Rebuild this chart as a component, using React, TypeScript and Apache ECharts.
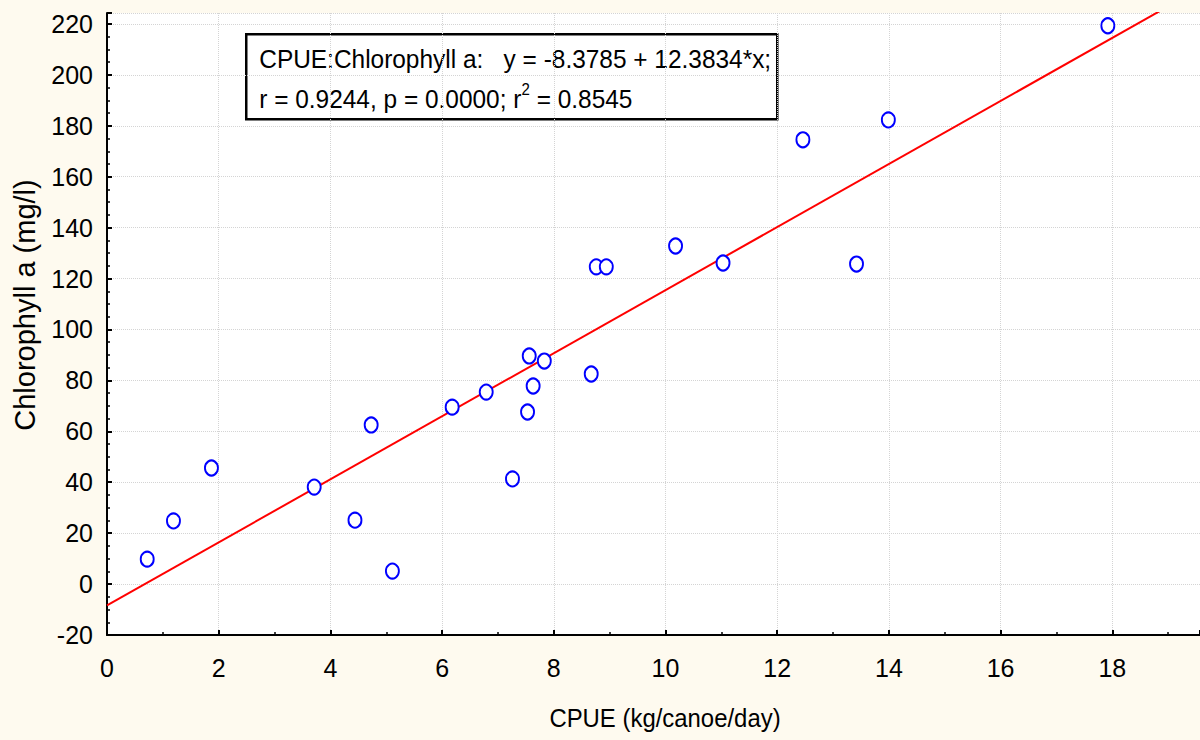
import React, { useEffect, useRef } from "react";
import * as echarts from "echarts";

const cpue: number[] = [0.72, 1.19, 1.87, 3.71, 4.44, 4.73, 5.11, 6.18, 6.79, 7.26, 7.53, 7.56, 7.63, 7.83, 8.67, 8.76, 8.94, 10.18, 11.03, 12.46, 13.42, 13.99, 17.92];
const chlorophyll: number[] = [9.8, 24.8, 45.6, 38.1, 25.1, 62.5, 5.1, 69.5, 75.4, 41.3, 67.6, 89.6, 77.8, 87.6, 82.5, 124.6, 124.6, 132.8, 126.1, 174.5, 125.7, 182.3, 219.3];

const INTERCEPT = -8.3785;
const SLOPE = 12.3834;
const X_MIN = 0;
const X_MAX = 19.57;
const Y_MIN = -20;
const Y_MAX = 224.3;

const line1 = "CPUE:Chlorophyll a:   y = -8.3785 + 12.3834*x;";
const line2a = "r = 0.9244, p = 0.0000; r";
const line2sup = "2";
const line2b = " = 0.8545";
const xName = "CPUE (kg/canoe/day)";
const yName = "Chlorophyll a (mg/l)";

const FONT = "'Liberation Sans', Arial, sans-serif";

export default function App() {
  const ref = useRef<HTMLDivElement>(null);
  useEffect(() => {
    if (!ref.current) return;
    const chart = echarts.init(ref.current, null, { renderer: "svg" });
    const points = cpue.map((x, i) => [x, chlorophyll[i]]);
    const fit = [
      [X_MIN, INTERCEPT + SLOPE * X_MIN],
      [X_MAX, INTERCEPT + SLOPE * X_MAX],
    ];
    chart.setOption({
      animation: false,
      backgroundColor: "#fefaef",
      textStyle: { fontFamily: FONT },
      grid: {
        left: 107,
        right: 0,
        top: 13,
        bottom: 105,
        show: true,
        backgroundColor: "#ffffff",
        borderWidth: 0,
      },
      xAxis: {
        type: "value",
        min: X_MIN,
        max: X_MAX,
        interval: 2,
        axisLine: { show: true, onZero: false, lineStyle: { color: "#000", width: 2 } },
        axisTick: { show: true, inside: true, length: 5, lineStyle: { color: "#000", width: 2 } },
        minorTick: { show: true, splitNumber: 2, length: 3, lineStyle: { color: "#000", width: 1.5 } },
        axisLabel: { color: "#000", fontSize: 25, margin: 20, fontFamily: FONT, showMaxLabel: false },
        splitLine: { show: true, lineStyle: { color: "#d4d4d4", type: "dotted", width: 1 } },
      },
      yAxis: {
        type: "value",
        min: Y_MIN,
        max: Y_MAX,
        interval: 20,
        axisLine: { show: true, onZero: false, lineStyle: { color: "#000", width: 2 } },
        axisTick: { show: true, inside: true, length: 5, lineStyle: { color: "#000", width: 2 } },
        minorTick: { show: true, splitNumber: 4, length: 3, lineStyle: { color: "#000", width: 1.5 } },
        axisLabel: { color: "#000", fontSize: 25, margin: 14, fontFamily: FONT, showMaxLabel: false },
        splitLine: { show: true, lineStyle: { color: "#d4d4d4", type: "dotted", width: 1 } },
      },
      series: [
        {
          type: "line",
          data: fit,
          showSymbol: false,
          symbol: "none",
          clip: true,
          lineStyle: { color: "#ff0000", width: 2 },
          z: 2,
        },
        {
          type: "scatter",
          data: points,
          symbol: "emptyCircle",
          symbolSize: [13, 15],
          itemStyle: { color: "#0000ff", borderColor: "#0000ff", borderWidth: 2.2, opacity: 1 },
          z: 3,
        },
      ],
      graphic: [
        {
          type: "group",
          left: 245,
          top: 33,
          z: 10,
          children: [
            {
              type: "rect",
              shape: { x: 0, y: 0, width: 531, height: 85 },
              style: { fill: "#ffffff", stroke: "#000000", lineWidth: 2.5 },
            },
            {
              type: "text",
              x: 13,
              y: 24,
              scaleX: 0.94,
              style: { text: line1, fill: "#000", font: `26px ${FONT}`, verticalAlign: "middle" },
            },
            {
              type: "text",
              x: 13,
              y: 62,
              scaleX: 0.94,
              style: {
                text: `{a|${line2a}}{s|${line2sup}}{a|${line2b}}`,
                verticalAlign: "middle",
                rich: {
                  a: { fontSize: 26, fontFamily: FONT, fill: "#000", verticalAlign: "bottom", lineHeight: 30 },
                  s: { fontSize: 16, fontFamily: FONT, fill: "#000", verticalAlign: "top", lineHeight: 30, padding: [0, 0, 12, 0] },
                },
              },
            },
          ],
        },
        {
          type: "text",
          x: 665,
          y: 718,
          scaleX: 0.92,
          style: { text: xName, fill: "#000", font: `26px ${FONT}`, align: "center", verticalAlign: "middle" },
        },
        {
          type: "text",
          x: 25,
          y: 305,
          rotation: Math.PI / 2,
          style: { text: yName, fill: "#000", font: `29px ${FONT}`, align: "center", verticalAlign: "middle" },
        },
      ],
    });
    return () => chart.dispose();
  }, []);
  return <div ref={ref} style={{ width: 1200, height: 740, position: "absolute", left: 0, top: 0 }} />;
}
